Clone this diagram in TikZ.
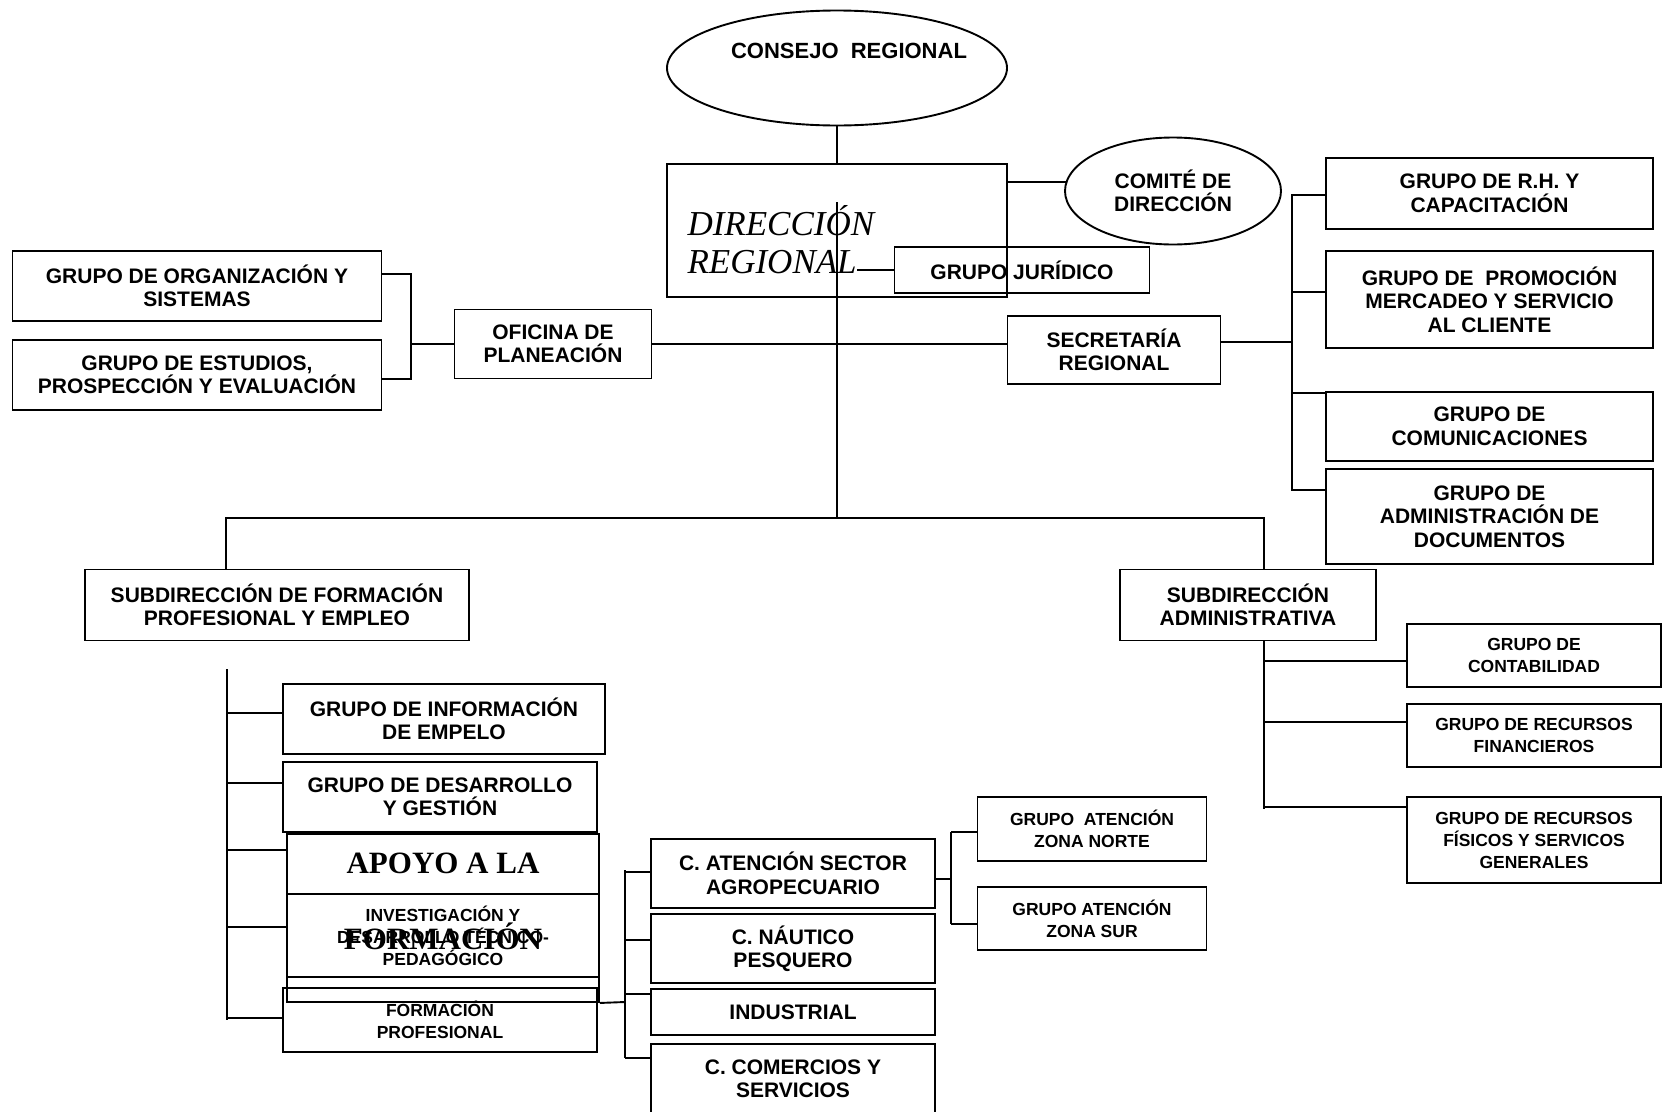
\documentclass[tikz,border=0pt]{standalone}
\usepackage{fontspec}
\setmainfont{Liberation Sans}
\newfontfamily\romanfont{Liberation Serif}
\usetikzlibrary{shapes.geometric}

\tikzset{
  unit/.style={draw, line width=1.9pt, align=center, inner sep=0pt,
    font=\bfseries\fontsize{21}{23.5}\selectfont},
  smallunit/.style={unit, font=\bfseries\fontsize{17.5}{22}\selectfont},
  oval/.style={unit, ellipse},
  link/.style={line width=1.9pt},
}

\begin{document}
\begin{tikzpicture}[x=1pt, y=-1pt]
    \useasboundingbox (0,0) rectangle (1670,1111);

    % Top level
    \node[oval, minimum width=340pt, minimum height=115pt] (consejo) at (837,68) {};
    \node[font=\bfseries\fontsize{22}{24}\selectfont] (consejotxt) at (849,51) {CONSEJO\ \ REGIONAL};
    \node[unit, minimum width=340pt, minimum height=133pt] (direccion) at (837,230.5) {};
    \node[anchor=west, align=left, font=\romanfont\itshape\fontsize{35}{38}\selectfont] (direcciontxt) at (684,240) {DIRECCIÓN\\REGIONAL};
    \node[oval, minimum width=216pt, minimum height=107pt] (comite) at (1173,191) {COMITÉ DE\\DIRECCIÓN};
    \node[unit, minimum width=255pt, minimum height=46pt] (juridico) at (1022,270) {GRUPO JURÍDICO};
    \coordinate (jurstart) at (857,270);

    % Staff offices
    \node[unit, minimum width=197pt, minimum height=69pt] (oficina) at (553,344) {OFICINA DE\\PLANEACIÓN};
    \node[unit, minimum width=213pt, minimum height=68pt] (secretaria) at (1114,350) {SECRETARÍA\\REGIONAL};
    \node[unit, minimum width=369pt, minimum height=70pt] (org) at (197,286) {GRUPO DE ORGANIZACIÓN Y\\SISTEMAS};
    \node[unit, minimum width=369pt, minimum height=70pt] (estudios) at (197,375) {GRUPO DE ESTUDIOS,\\PROSPECCIÓN Y EVALUACIÓN};
    \node[unit, minimum width=327pt, minimum height=71pt] (rh) at (1489.5,193.5) {GRUPO DE R.H. Y\\CAPACITACIÓN};
    \node[unit, minimum width=327pt, minimum height=97pt] (promo) at (1489.5,299.5) {GRUPO DE\ \ PROMOCIÓN\\MERCADEO Y SERVICIO\\AL CLIENTE};
    \node[unit, minimum width=327pt, minimum height=69pt] (comunic) at (1489.5,426.5) {GRUPO DE\\COMUNICACIONES};
    \node[unit, minimum width=327pt, minimum height=95pt] (admdoc) at (1489.5,516.5) {GRUPO DE\\ADMINISTRACIÓN DE\\DOCUMENTOS};

    % Subdirections
    \node[unit, minimum width=384pt, minimum height=71pt] (sfp) at (277,605) {SUBDIRECCIÓN DE FORMACIÓN\\PROFESIONAL Y EMPLEO};
    \node[unit, minimum width=256pt, minimum height=71pt] (sadm) at (1248,605) {SUBDIRECCIÓN\\ADMINISTRATIVA};

    % Groups under formacion profesional
    \node[unit, minimum width=322pt, minimum height=70pt] (info) at (444,719) {GRUPO DE INFORMACIÓN\\DE EMPELO};
    \node[unit, minimum width=314pt, minimum height=70pt] (desarrollo) at (440,797) {GRUPO DE DESARROLLO\\Y GESTIÓN};
    \node[unit, minimum width=312pt, minimum height=168pt] (apoyo) at (443,918) {};
    \node[align=center, font=\romanfont\bfseries\fontsize{31}{76}\selectfont] (apoyotxt) at (443,901) {APOYO A LA\\FORMACIÓN};
    \node[smallunit, minimum width=312pt, minimum height=83pt] (invest) at (443,935.5) {INVESTIGACIÓN Y\\DESARROLLO TÉCNICO-\\PEDAGÓGICO};
    \node[smallunit, minimum width=314pt, minimum height=64pt] (formprof) at (440,1020) {FORMACIÓN\\PROFESIONAL};

    % Centros
    \node[unit, minimum width=284pt, minimum height=69pt] (agro) at (793,873.5) {C. ATENCIÓN SECTOR\\AGROPECUARIO};
    \node[unit, minimum width=284pt, minimum height=69pt] (nautico) at (793,948.5) {C. NÁUTICO\\PESQUERO};
    \node[unit, minimum width=284pt, minimum height=46pt] (industrial) at (793,1012) {INDUSTRIAL};
    \node[unit, minimum width=284pt, minimum height=70pt] (comercio) at (793,1079) {C. COMERCIOS Y\\SERVICIOS};
    \node[smallunit, minimum width=229pt, minimum height=64pt] (norte) at (1092,829) {GRUPO\ \ ATENCIÓN\\ZONA NORTE};
    \node[smallunit, minimum width=229pt, minimum height=63pt] (sur) at (1092,918.5) {GRUPO ATENCIÓN\\ZONA SUR};

    % Groups under administrativa
    \node[smallunit, minimum width=254pt, minimum height=63pt] (contab) at (1534,655.5) {GRUPO DE\\CONTABILIDAD};
    \node[smallunit, minimum width=254pt, minimum height=63pt] (finan) at (1534,735.5) {GRUPO DE RECURSOS\\FINANCIEROS};
    \node[smallunit, minimum width=254pt, minimum height=86pt] (fisicos) at (1534,840) {GRUPO DE RECURSOS\\FÍSICOS Y SERVICOS\\GENERALES};

    % Spine points
    \coordinate (dirstem) at (837,202);
    \coordinate (busmid) at (837,518);
    \coordinate (busL) at (226,518);
    \coordinate (busR) at (1264,518);
    \coordinate (plantop) at (411,274);
    \coordinate (planbot) at (411,379);
    \coordinate (sectop) at (1292,195);
    \coordinate (secline) at (1292,342);
    \coordinate (secpromo) at (1292,292);
    \coordinate (seccom) at (1292,393);
    \coordinate (secbot) at (1292,490);
    \coordinate (admtop) at (1264,641);
    \coordinate (adm1) at (1264,661);
    \coordinate (adm2) at (1264,722);
    \coordinate (adm3) at (1264,807);
    \coordinate (admbot) at (1264,809);
    \coordinate (fp0) at (227,669);
    \coordinate (fp1) at (227,713);
    \coordinate (fp2) at (227,783);
    \coordinate (fp3) at (227,850);
    \coordinate (fp4) at (227,927);
    \coordinate (fp5) at (227,1018);
    \coordinate (fp6) at (227,1020);
    \coordinate (c0) at (625,870);
    \coordinate (c1) at (625,872);
    \coordinate (c2) at (625,940);
    \coordinate (c3) at (625,994);
    \coordinate (c4) at (625,1058);
    \coordinate (capoyo) at (625,1002);
    \coordinate (z1) at (951,832);
    \coordinate (zagro) at (951,879);
    \coordinate (z2) at (951,924);

    % Connectors
    \draw[link] (consejo.south) -- (direccion.north);
    \draw[link] (dirstem) -- (busmid);
    \draw[link] (direccion.east |- comite.175) -- (comite.175);
    \draw[link] (jurstart) -- (juridico.west);
    \draw[link] (oficina.east) -- (oficina.east -| secretaria.west);
    \draw[link] (org.east |- plantop) -- (plantop) -- (planbot) -- (estudios.east |- planbot);
    \draw[link] (oficina.west) -- (oficina.west -| plantop);
    \draw[link] (rh.west |- sectop) -- (sectop) -- (secbot) -- (admdoc.west |- secbot);
    \draw[link] (secpromo) -- (secpromo -| promo.west);
    \draw[link] (seccom) -- (seccom -| comunic.west);
    \draw[link] (secline -| secretaria.east) -- (secline);
    \draw[link] (sfp.north -| busL) -- (busL) -- (busR) -- (busR |- sadm.north);

    \draw[link] (admtop) -- (admbot);
    \draw[link] (adm1) -- (adm1 -| contab.west);
    \draw[link] (adm2) -- (adm2 -| finan.west);
    \draw[link] (adm3) -- (adm3 -| fisicos.west);

    \draw[link] (fp0) -- (fp6);
    \draw[link] (fp1) -- (fp1 -| info.west);
    \draw[link] (fp2) -- (fp2 -| desarrollo.west);
    \draw[link] (fp3) -- (fp3 -| apoyo.west);
    \draw[link] (fp4) -- (fp4 -| invest.west);
    \draw[link] (fp5) -- (fp5 -| formprof.west);

    \draw[link] (apoyo.south east) -- (capoyo);
    \draw[link] (c0) -- (c4);
    \draw[link] (c1) -- (c1 -| agro.west);
    \draw[link] (c2) -- (c2 -| nautico.west);
    \draw[link] (c3) -- (c3 -| industrial.west);
    \draw[link] (c4) -- (c4 -| comercio.west);

    \draw[link] (agro.east |- zagro) -- (zagro);
    \draw[link] (z1) -- (z2);
    \draw[link] (z1) -- (z1 -| norte.west);
    \draw[link] (z2) -- (z2 -| sur.west);
\end{tikzpicture}
\end{document}
